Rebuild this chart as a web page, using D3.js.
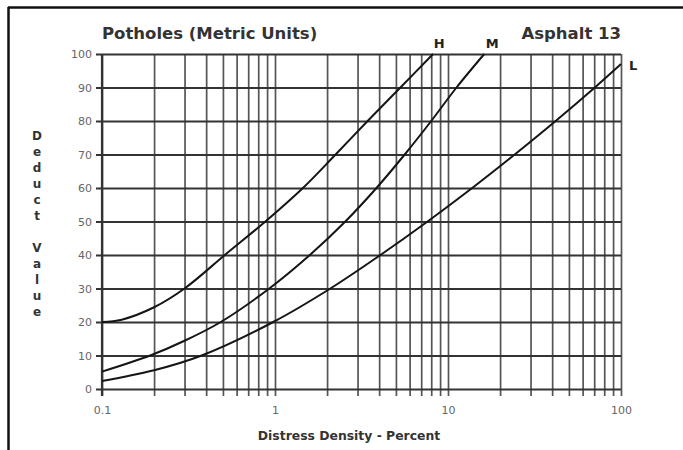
<!DOCTYPE html>
<html>
<head>
<meta charset="utf-8">
<script src="https://cdn.jsdelivr.net/npm/d3@7"></script>
<style>
  html, body { margin: 0; padding: 0; background: #fff; }
  svg { display: block; }
  text { font-family: "DejaVu Sans", Verdana, sans-serif; }
</style>
</head>
<body>
<svg id="chart" width="683" height="450"></svg>
<script>
// Deduct value curves for potholes, by severity (density %, deduct value)
const highCurve = [[0.1, 20], [0.13, 20.7], [0.2, 24.4], [0.3, 30], [0.513, 40], [0.88, 50],
  [1.45, 60], [2.24, 70], [3.43, 80], [5.31, 90], [8.2, 100]];
const mediumCurve = [[0.1, 5.2], [0.19, 10], [0.3, 14.4], [0.486, 20], [0.927, 30], [1.59, 40],
  [2.55, 50], [3.86, 60], [5.62, 70], [8.0, 80], [11.2, 90], [16.2, 100]];
const lowCurve = [[0.1, 2.4], [0.2, 5.6], [0.377, 10], [0.977, 20], [2.09, 30], [4.07, 40],
  [7.62, 50], [13.8, 60], [24.3, 70], [41.9, 80], [70.6, 90], [100, 97]];
const severityLabels = ["H", "M", "L"];

// Axis ticks
const densityGrid = [0.1, 0.2, 0.3, 0.4, 0.5, 0.6, 0.7, 0.8, 0.9,
  1, 2, 3, 4, 5, 6, 7, 8, 9, 10, 20, 30, 40, 50, 60, 70, 80, 90, 100];
const densityLabels = [0.1, 1, 10, 100];
const deductTicks = [0, 10, 20, 30, 40, 50, 60, 70, 80, 90, 100];

const titleText = "Potholes (Metric Units)";
const sheetText = "Asphalt 13";
const xTitle = "Distress Density - Percent";
const yTitle = "Deduct Value";

const svg = d3.select("#chart");

// page frame (top and left edges)
svg.append("line").attr("x1", 8).attr("x2", 683).attr("y1", 7.5).attr("y2", 7.5)
  .attr("stroke", "#111").attr("stroke-width", 2.5);
svg.append("line").attr("x1", 8.5).attr("x2", 8.5).attr("y1", 7).attr("y2", 450)
  .attr("stroke", "#111").attr("stroke-width", 2.5);

const plotLeft = 102, plotRight = 621, plotTop = 54, plotBottom = 389;
const x = d3.scaleLog().domain([0.1, 100]).range([plotLeft, plotRight]);
const y = d3.scaleLinear().domain([0, 100]).range([plotBottom, plotTop]);

// vertical grid lines, extending below the baseline as ticks
const xAxis = d3.axisBottom(x)
  .tickValues(densityGrid)
  .tickSizeInner(-(plotBottom + 7 - plotTop))
  .tickSizeOuter(0)
  .tickPadding(10)
  .tickFormat(d => densityLabels.includes(d) ? (d < 1 ? "0.1" : String(d)) : "");
const gx = svg.append("g").attr("transform", `translate(0,${plotBottom + 7})`).call(xAxis);
gx.select(".domain").remove();
gx.selectAll(".tick line").attr("stroke", "#555").attr("stroke-width", 1.7);
gx.selectAll(".tick text").attr("fill", "#666").attr("font-size", 11);

// horizontal grid lines, extending left of the axis as ticks
const yAxis = d3.axisLeft(y)
  .tickValues(deductTicks)
  .tickSizeInner(-(plotRight - plotLeft + 6))
  .tickSizeOuter(0)
  .tickPadding(4);
const gy = svg.append("g").attr("transform", `translate(${plotLeft - 6},0)`).call(yAxis);
gy.select(".domain").remove();
gy.selectAll(".tick line").attr("stroke", "#333").attr("stroke-width", 2.2);
gy.selectAll(".tick text").attr("fill", "#666").attr("font-size", 11);

// y axis line
svg.append("line").attr("x1", plotLeft).attr("x2", plotLeft).attr("y1", plotTop).attr("y2", plotBottom + 7)
  .attr("stroke", "#333").attr("stroke-width", 2.2);

// severity curves
const line = d3.line()
  .x(d => x(d[0]))
  .y(d => y(d[1]))
  .curve(d3.curveCatmullRom.alpha(0.5));
[highCurve, mediumCurve, lowCurve].forEach(series => {
  svg.append("path").datum(series)
    .attr("d", line)
    .attr("fill", "none")
    .attr("stroke", "#151515")
    .attr("stroke-width", 2);
});

// severity labels at curve ends
const ends = [highCurve, mediumCurve, lowCurve].map(s => s[s.length - 1]);
svg.append("text").text(severityLabels[0])
  .attr("x", x(ends[0][0]) + 6).attr("y", y(ends[0][1]) - 6)
  .attr("text-anchor", "middle").attr("font-weight", "bold").attr("font-size", 13).attr("fill", "#222");
svg.append("text").text(severityLabels[1])
  .attr("x", x(ends[1][0]) + 8).attr("y", y(ends[1][1]) - 6)
  .attr("text-anchor", "middle").attr("font-weight", "bold").attr("font-size", 13).attr("fill", "#222");
svg.append("text").text(severityLabels[2])
  .attr("x", x(ends[2][0]) + 8).attr("y", y(ends[2][1]) + 6)
  .attr("text-anchor", "start").attr("font-weight", "bold").attr("font-size", 13).attr("fill", "#222");

// titles
svg.append("text").text(titleText)
  .attr("x", plotLeft).attr("y", 39)
  .attr("font-weight", "bold").attr("font-size", 16.5).attr("fill", "#333");
svg.append("text").text(sheetText)
  .attr("x", plotRight).attr("y", 39).attr("text-anchor", "end")
  .attr("font-weight", "bold").attr("font-size", 16.5).attr("fill", "#333");

svg.append("text").text(xTitle)
  .attr("x", 349).attr("y", 440).attr("text-anchor", "middle")
  .attr("font-weight", "bold").attr("font-size", 12.4).attr("fill", "#333");

// stacked y-axis title, one upright letter per row
const letters = yTitle.split("");
const yg = svg.append("g").attr("fill", "#333").attr("font-weight", "bold").attr("font-size", 12);
letters.forEach((ch, i) => {
  if (ch === " ") return;
  yg.append("text").text(ch)
    .attr("x", 37).attr("y", 136 + i * 16)
    .attr("text-anchor", "middle").attr("dy", "0.35em");
});
</script>
</body>
</html>
